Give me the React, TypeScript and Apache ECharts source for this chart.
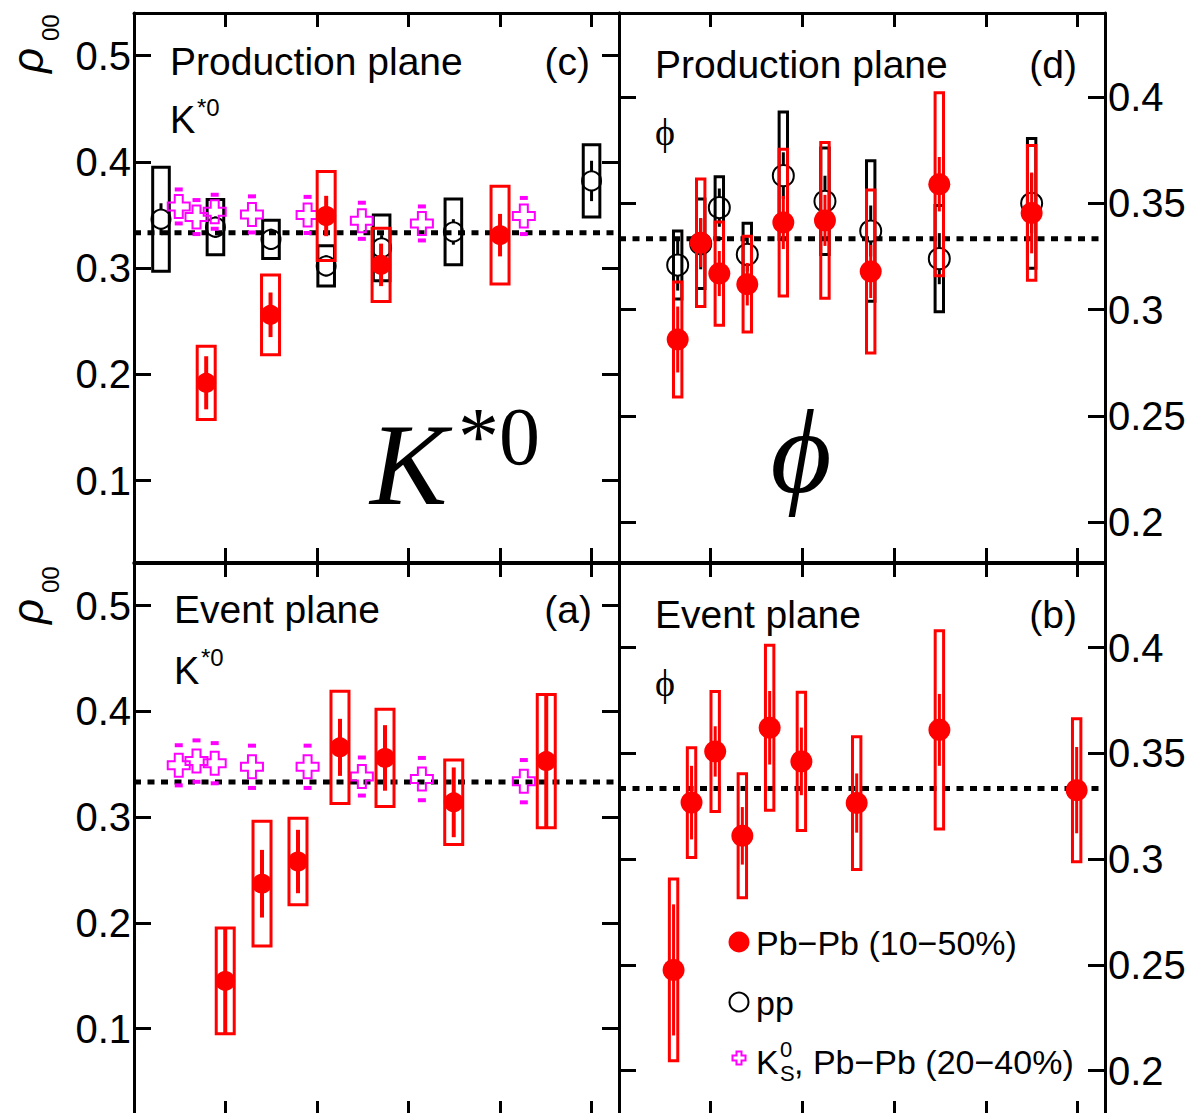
import React, { useEffect, useRef } from "react";
import * as echarts from "echarts";

// ---------- axis ticks ----------
const X_TICKS = [1, 2, 3, 4, 5];
const K_Y_TICKS = [0.1, 0.2, 0.3, 0.4, 0.5];
const PHI_Y_TICKS = [0.2, 0.25, 0.3, 0.35, 0.4];
const RHO_ISO = 1 / 3;

// ---------- (c) K*0, production plane ----------
const C_PP_X = [0.295, 0.89, 1.497, 2.1, 2.706, 3.49, 5.0];
const C_PP_Y = [0.346, 0.3385, 0.327, 0.302, 0.319, 0.334, 0.382];
const C_PP_STAT = [0.015, 0.01, 0.01, 0.01, 0.012, 0.012, 0.019];
const C_PP_SYS = [0.049, 0.026, 0.018, 0.019, 0.031, 0.031, 0.034];

const C_PB_X = [0.789, 1.492, 2.1, 2.7, 4.0];
const C_PB_Y = [0.192, 0.256, 0.349, 0.303, 0.331];
const C_PB_STAT = [0.025, 0.021, 0.019, 0.02, 0.02];
const C_PB_SYS = [0.0345, 0.0375, 0.042, 0.0345, 0.046];

const K0S_X = [0.489, 0.683, 0.882, 1.289, 1.897, 2.49, 3.146, 4.26];
const C_K0S_Y = [0.358, 0.348, 0.353, 0.3505, 0.35, 0.3445, 0.342, 0.349];
const C_K0S_ERR = [0.016, 0.016, 0.016, 0.017, 0.017, 0.017, 0.016, 0.017];

// ---------- (a) K*0, event plane ----------
const A_PB_X = [0.997, 1.399, 1.792, 2.251, 2.743, 3.494, 4.505];
const A_PB_Y = [0.145, 0.237, 0.258, 0.366, 0.356, 0.314, 0.353];
const A_PB_STAT = [0.051, 0.032, 0.03, 0.027, 0.031, 0.033, 0.064];
const A_PB_SYS = [0.05, 0.059, 0.041, 0.053, 0.046, 0.04, 0.063];

const A_K0S_Y = [0.349, 0.353, 0.351, 0.3476, 0.3476, 0.3384, 0.336, 0.334];
const A_K0S_ERR = [0.019, 0.0196, 0.019, 0.02, 0.02, 0.018, 0.02, 0.02];

// ---------- (d) phi, production plane ----------
const D_X = [0.64, 0.891, 1.094, 1.399, 1.792, 2.246, 2.745, 3.493, 4.5];
const D_PP_Y = [0.321, 0.331, 0.348, 0.326, 0.363, 0.351, 0.337, 0.324, 0.35];
const D_PP_STAT = [0.012, 0.012, 0.009, 0.008, 0.011, 0.012, 0.012, 0.012, 0.014];
const D_PP_SYS = [0.016, 0.021, 0.0145, 0.0146, 0.03, 0.025, 0.033, 0.025, 0.0305];
const D_PB_Y = [0.286, 0.3315, 0.317, 0.312, 0.341, 0.342, 0.318, 0.359, 0.3455];
const D_PB_STAT = [0.0155, 0.0115, 0.0106, 0.01, 0.0125, 0.012, 0.0125, 0.0128, 0.019];
const D_PB_SYS = [0.027, 0.03, 0.0243, 0.0225, 0.0345, 0.0366, 0.0383, 0.043, 0.0317];

// ---------- (b) phi, event plane ----------
const B_X = [0.595, 0.791, 1.049, 1.345, 1.643, 1.989, 2.592, 3.494, 4.991];
const B_PB_Y = [0.2476, 0.3267, 0.3509, 0.311, 0.3621, 0.3462, 0.3265, 0.3611, 0.3326];
const B_PB_STAT = [0.031, 0.0174, 0.0119, 0.0136, 0.0174, 0.016, 0.014, 0.017, 0.0204];
const B_PB_SYS = [0.043, 0.026, 0.0284, 0.0293, 0.039, 0.0327, 0.0314, 0.0469, 0.0338];

// ---------- layout / style ----------
const FONT = '"Liberation Sans", Arial, Helvetica, sans-serif';
const SERIF = '"Liberation Serif", "DejaVu Serif", "Times New Roman", serif';
const RED = "#ff0000";
const MAG = "#ff00ff";
const X_MAX = 5.3;

const GRIDS = [
  { left: 134, top: 13, width: 485, height: 549 }, // (c)
  { left: 619, top: 13, width: 486, height: 549 }, // (d)
  { left: 134, top: 563, width: 485, height: 552 }, // (a)
  { left: 619, top: 563, width: 486, height: 552 }, // (b)
];
const Y_RANGES = [
  [0.0233, 0.5401],
  [0.1814, 0.4395],
  [0.0182, 0.5404],
  [0.179, 0.44],
];

function boxSeries(g: number, xs: number[], ys: number[], sys: number[], color: string, hw: number, lw: number, z: number) {
  return {
    type: "custom",
    xAxisIndex: g * 2,
    yAxisIndex: g * 2,
    z,
    silent: true,
    data: xs.map((x, i) => [x, ys[i] - sys[i], ys[i] + sys[i]]),
    renderItem: (_p: any, api: any) => {
      const x = api.value(0);
      const t = api.coord([x, api.value(2)]);
      const b = api.coord([x, api.value(1)]);
      return {
        type: "rect",
        shape: { x: t[0] - hw, y: t[1], width: hw * 2, height: b[1] - t[1] },
        style: { fill: "none", stroke: color, lineWidth: lw },
      };
    },
  };
}

function statSeries(g: number, xs: number[], ys: number[], errs: number[], color: string, lw: number, gap: number, z: number) {
  return {
    type: "custom",
    xAxisIndex: g * 2,
    yAxisIndex: g * 2,
    z,
    silent: true,
    data: xs.map((x, i) => [x, ys[i], errs[i]]),
    renderItem: (_p: any, api: any) => {
      const x = api.value(0);
      const y = api.value(1);
      const e = api.value(2);
      const c = api.coord([x, y]);
      const t = api.coord([x, y + e]);
      const b = api.coord([x, y - e]);
      const children: any[] = [];
      if (c[1] - gap > t[1])
        children.push({ type: "line", shape: { x1: c[0], y1: t[1], x2: c[0], y2: c[1] - gap }, style: { stroke: color, lineWidth: lw } });
      if (b[1] > c[1] + gap)
        children.push({ type: "line", shape: { x1: c[0], y1: c[1] + gap, x2: c[0], y2: b[1] }, style: { stroke: color, lineWidth: lw } });
      return { type: "group", children };
    },
  };
}

function markerSeries(g: number, xs: number[], ys: number[], filled: boolean, size: number, z: number) {
  return {
    type: "scatter",
    xAxisIndex: g * 2,
    yAxisIndex: g * 2,
    z,
    silent: true,
    symbol: "circle",
    symbolSize: size,
    data: xs.map((x, i) => [x, ys[i]]),
    itemStyle: filled
      ? { color: RED, borderWidth: 0, opacity: 1 }
      : { color: "rgba(0,0,0,0)", borderColor: "#000", borderWidth: 2, opacity: 1 },
  };
}

function crossPoints(cx: number, cy: number, a: number, bx: number, by: number) {
  return [
    [cx - a, cy - by], [cx + a, cy - by], [cx + a, cy - a], [cx + bx, cy - a],
    [cx + bx, cy + a], [cx + a, cy + a], [cx + a, cy + by], [cx - a, cy + by],
    [cx - a, cy + a], [cx - bx, cy + a], [cx - bx, cy - a], [cx - a, cy - a],
  ];
}

function k0sSeries(g: number, xs: number[], ys: number[], errs: number[], z: number) {
  return {
    type: "custom",
    xAxisIndex: g * 2,
    yAxisIndex: g * 2,
    z,
    silent: true,
    data: xs.map((x, i) => [x, ys[i], errs[i]]),
    renderItem: (_p: any, api: any) => {
      const x = api.value(0);
      const y = api.value(1);
      const e = api.value(2);
      const c = api.coord([x, y]);
      const t = api.coord([x, y + e]);
      const b = api.coord([x, y - e]);
      return {
        type: "group",
        children: [
          { type: "polygon", shape: { points: crossPoints(c[0], c[1], 4, 11, 11.5) }, style: { fill: "none", stroke: MAG, lineWidth: 2 } },
          { type: "rect", shape: { x: c[0] - 4, y: t[1] - 2, width: 8, height: 4 }, style: { fill: MAG } },
          { type: "rect", shape: { x: c[0] - 4, y: b[1] - 2, width: 8, height: 4 }, style: { fill: MAG } },
        ],
      };
    },
  };
}

function isoLine(g: number) {
  return {
    type: "line",
    xAxisIndex: g * 2,
    yAxisIndex: g * 2,
    z: 1,
    silent: true,
    symbol: "none",
    data: [[0, RHO_ISO], [X_MAX, RHO_ISO]],
    lineStyle: { color: "#000", width: 5, type: [7, 6.5] },
  };
}

function txt(x: number, y: number, text: string, size: number, opts: any = {}) {
  return {
    type: "text",
    x,
    y,
    rotation: opts.rotation || 0,
    silent: true,
    style: {
      text,
      fontSize: size,
      fontFamily: opts.family || FONT,
      fontStyle: opts.italic ? "italic" : "normal",
      fill: "#000",
      textAlign: opts.align || "left",
      align: opts.align || "left",
      textVerticalAlign: "middle",
      verticalAlign: "middle",
    },
  };
}

function buildOption() {
  const axisLine = { show: true, onZero: false, lineStyle: { color: "#000", width: 3 } };
  const xAxis: any[] = [];
  const yAxis: any[] = [];
  GRIDS.forEach((_, g) => {
    ["bottom", "top"].forEach((pos) => {
      xAxis.push({
        gridIndex: g,
        type: "value",
        position: pos,
        min: 0,
        max: X_MAX,
        axisLine,
        axisTick: { show: true, inside: true, length: 14, customValues: X_TICKS, lineStyle: { color: "#000", width: 3 } },
        axisLabel: { show: false, customValues: X_TICKS },
        splitLine: { show: false },
      });
    });
    const isK = g === 0 || g === 2;
    const ticks = isK ? K_Y_TICKS : PHI_Y_TICKS;
    ["left", "right"].forEach((pos) => {
      const showLabel = (isK && pos === "left") || (!isK && pos === "right");
      yAxis.push({
        gridIndex: g,
        type: "value",
        position: pos,
        min: Y_RANGES[g][0],
        max: Y_RANGES[g][1],
        axisLine,
        axisTick: { show: true, inside: true, length: 17, customValues: ticks, lineStyle: { color: "#000", width: 3 } },
        axisLabel: {
          show: showLabel,
          customValues: ticks,
          fontSize: 40,
          fontFamily: FONT,
          color: "#000",
          margin: 3,
          formatter: (v: number) => String(Math.round(v * 100) / 100),
        },
        splitLine: { show: false },
      });
    });
  });

  const series: any[] = [];
  [0, 1, 2, 3].forEach((g) => series.push(isoLine(g)));

  // (c)
  series.push(boxSeries(0, C_PP_X, C_PP_Y, C_PP_SYS, "#000", 8.3, 3, 2));
  series.push(statSeries(0, C_PP_X, C_PP_Y, C_PP_STAT, "#000", 3, 9.5, 3));
  series.push(markerSeries(0, C_PP_X, C_PP_Y, false, 19, 3));
  series.push(k0sSeries(0, K0S_X, C_K0S_Y, C_K0S_ERR, 4));
  series.push(boxSeries(0, C_PB_X, C_PB_Y, C_PB_SYS, RED, 9, 3, 5));
  series.push(statSeries(0, C_PB_X, C_PB_Y, C_PB_STAT, RED, 4, 0, 6));
  series.push(markerSeries(0, C_PB_X, C_PB_Y, true, 20, 7));

  // (a)
  series.push(k0sSeries(2, K0S_X, A_K0S_Y, A_K0S_ERR, 4));
  series.push(boxSeries(2, A_PB_X, A_PB_Y, A_PB_SYS, RED, 9, 3, 5));
  series.push(statSeries(2, A_PB_X, A_PB_Y, A_PB_STAT, RED, 4, 0, 6));
  series.push(markerSeries(2, A_PB_X, A_PB_Y, true, 20, 7));

  // (d)
  series.push(boxSeries(1, D_X, D_PP_Y, D_PP_SYS, "#000", 4.2, 3, 2));
  series.push(statSeries(1, D_X, D_PP_Y, D_PP_STAT, "#000", 3, 10.5, 3));
  series.push(markerSeries(1, D_X, D_PP_Y, false, 21, 3));
  series.push(boxSeries(1, D_X, D_PB_Y, D_PB_SYS, RED, 4.2, 3, 5));
  series.push(statSeries(1, D_X, D_PB_Y, D_PB_STAT, RED, 3, 0, 6));
  series.push(markerSeries(1, D_X, D_PB_Y, true, 22, 7));

  // (b)
  series.push(boxSeries(3, B_X, B_PB_Y, B_PB_SYS, RED, 4.2, 3, 5));
  series.push(statSeries(3, B_X, B_PB_Y, B_PB_STAT, RED, 3, 0, 6));
  series.push(markerSeries(3, B_X, B_PB_Y, true, 22, 7));

  const graphic: any[] = [
    // rho_00 titles
    txt(27, 73, "ρ", 44, { rotation: Math.PI / 2, italic: true }),
    txt(50, 41, "00", 24, { rotation: Math.PI / 2 }),
    txt(27, 624, "ρ", 44, { rotation: Math.PI / 2, italic: true }),
    txt(50, 593, "00", 24, { rotation: Math.PI / 2 }),
    // (c)
    txt(170, 61, "Production plane", 39),
    txt(590, 61, "(c)", 39, { align: "right" }),
    txt(170, 120, "K", 38),
    txt(197, 107, "*0", 24),
    // (d)
    txt(655, 64, "Production plane", 39),
    txt(1077, 64, "(d)", 39, { align: "right" }),
    txt(655, 132, "ϕ", 38, { family: SERIF }),
    // (a)
    txt(174, 609, "Event plane", 39),
    txt(592, 609, "(a)", 39, { align: "right" }),
    txt(174, 671, "K", 38),
    txt(201, 657, "*0", 24),
    // (b)
    txt(655, 614, "Event plane", 39),
    txt(1077, 614, "(b)", 39, { align: "right" }),
    txt(655, 683, "ϕ", 38, { family: SERIF }),
    // big labels
    txt(370, 465, "K", 116, { family: SERIF, italic: true }),
    txt(458, 436, "*0", 82, { family: SERIF }),
    txt(801, 452, "ϕ", 118, { family: SERIF, italic: true, align: "center" }),
    // legend
    { type: "circle", silent: true, shape: { cx: 739, cy: 942, r: 10.5 }, style: { fill: RED } },
    { type: "circle", silent: true, shape: { cx: 739, cy: 1002, r: 9.5 }, style: { fill: "none", stroke: "#000", lineWidth: 2 } },
    { type: "polygon", silent: true, shape: { points: crossPoints(739, 1058, 2.5, 6.5, 6.5) }, style: { fill: "none", stroke: MAG, lineWidth: 2 } },
    txt(756, 943, "Pb−Pb (10−50%)", 34),
    txt(756, 1003, "pp", 34),
    txt(756, 1062, "K", 34),
    txt(780, 1049, "0", 22),
    txt(780, 1073, "S", 22),
    txt(794, 1062, ", Pb−Pb (20−40%)", 34),
  ];

  return {
    animation: false,
    backgroundColor: "#fff",
    grid: GRIDS.map((g) => ({ ...g, containLabel: false })),
    xAxis,
    yAxis,
    series,
    graphic: { elements: graphic },
  };
}

export default function App() {
  const ref = useRef<HTMLDivElement>(null);
  useEffect(() => {
    if (!ref.current) return;
    const chart = echarts.init(ref.current, undefined, { renderer: "svg" });
    chart.setOption(buildOption() as any);
    return () => chart.dispose();
  }, []);
  return (
    <div
      ref={ref}
      style={{ position: "fixed", left: 0, top: 0, width: 1198, height: 1120, background: "#fff" }}
    />
  );
}
